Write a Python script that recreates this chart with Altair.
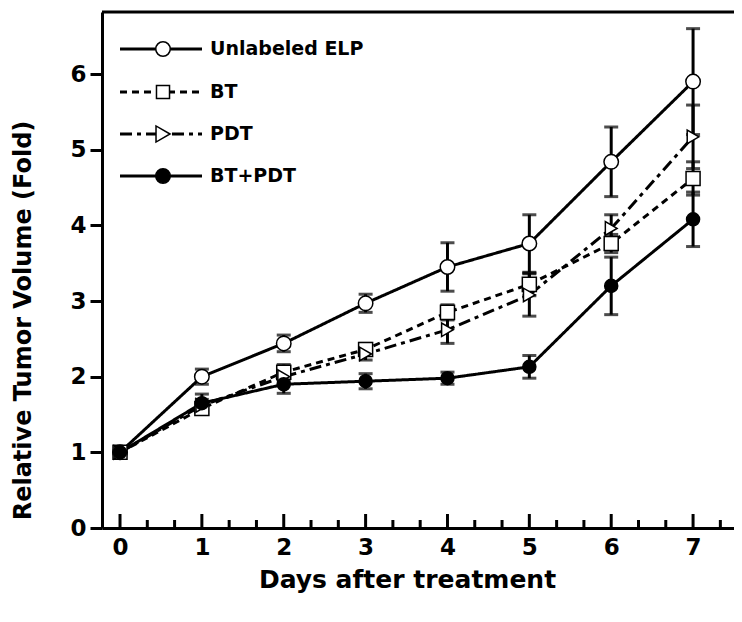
import altair as alt
import pandas as pd

# ---- data ----
days = [0, 1, 2, 3, 4, 5, 6, 7]
series_names = ["Unlabeled ELP", "BT", "PDT", "BT+PDT"]

elp = [1.0, 2.0, 2.44, 2.97, 3.45, 3.76, 4.84, 5.90]
elp_err = [0.06, 0.10, 0.11, 0.12, 0.32, 0.38, 0.46, 0.70]

bt = [1.0, 1.58, 2.06, 2.36, 2.85, 3.22, 3.76, 4.62]
bt_err = [0.05, 0.08, 0.10, 0.08, 0.10, 0.15, 0.12, 0.22]

pdt = [1.0, 1.62, 2.00, 2.30, 2.62, 3.08, 3.96, 5.17]
pdt_err = [0.05, 0.08, 0.08, 0.08, 0.18, 0.28, 0.18, 0.42]

combo = [1.0, 1.65, 1.90, 1.94, 1.98, 2.13, 3.20, 4.08]
combo_err = [0.06, 0.12, 0.12, 0.10, 0.08, 0.15, 0.38, 0.36]

y_ticks = [0, 1, 2, 3, 4, 5, 6]
x_major = [0, 1, 2, 3, 4, 5, 6, 7]
x_minor = [k / 3 for k in range(1, 23) if k % 3]

rows = []
for name, vals, errs in zip(series_names, [elp, bt, pdt, combo],
                            [elp_err, bt_err, pdt_err, combo_err]):
    for d, v, e in zip(days, vals, errs):
        rows.append({"series": name, "day": d, "value": v,
                     "lo": v - e, "hi": v + e})
df = pd.DataFrame(rows)

FONT = "DejaVu Sans"
W, H = 632, 516

xs = alt.Scale(domain=[-0.22, 7.5], nice=False, zero=False)
ys = alt.Scale(domain=[0, 6.82], nice=False, zero=False)

x_axis = alt.Axis(values=x_major, ticks=False, grid=False, domainWidth=3,
                  domainColor="black", labelFont=FONT, labelFontSize=23,
                  labelFontWeight="bold", labelColor="black", labelPadding=8,
                  title="Days after treatment", titleFont=FONT,
                  titleFontSize=25, titleFontWeight="bold", titleColor="black",
                  titlePadding=8, titleX=W / 2 - 11, format="d")
y_axis = alt.Axis(values=y_ticks, grid=False, domainWidth=3, domainColor="black",
                  tickSize=12, tickWidth=3, tickColor="black",
                  labelFont=FONT, labelFontSize=23, labelFontWeight="bold",
                  labelColor="black", labelPadding=4, format="d",
                  title="Relative Tumor Volume (Fold)", titleFont=FONT,
                  titleFontSize=24, titleFontWeight="bold", titleColor="black",
                  titlePadding=34, titleY=H / 2 + 50)

X = alt.X("day:Q", scale=xs, axis=x_axis)

dash_range = [[1, 0], [7, 5], [12, 5, 4, 5], [1, 0]]
shape_range = ["circle", "square", "triangle-right", "circle"]
fill_range = ["white", "white", "white", "black"]
size_range = [210, 170, 260, 210]

dash_enc = alt.StrokeDash("series:N", scale=alt.Scale(domain=series_names, range=dash_range), legend=None)

lines = alt.Chart(df).mark_line(color="black", strokeWidth=3).encode(
    x=X, y=alt.Y("value:Q", scale=ys, axis=y_axis),
    strokeDash=dash_enc, detail="series:N")

err_rule = alt.Chart(df).mark_rule(color="black", strokeWidth=3).encode(
    x=X, y=alt.Y("lo:Q", scale=ys, axis=y_axis), y2="hi:Q")
cap_lo = alt.Chart(df).mark_tick(color="black", thickness=3, size=14, orient="horizontal").encode(
    x=X, y=alt.Y("lo:Q", scale=ys, axis=y_axis))
cap_hi = alt.Chart(df).mark_tick(color="black", thickness=3, size=14, orient="horizontal").encode(
    x=X, y=alt.Y("hi:Q", scale=ys, axis=y_axis))

points = alt.Chart(df).mark_point(stroke="black", strokeWidth=1.5, opacity=1, filled=False).encode(
    x=X, y=alt.Y("value:Q", scale=ys, axis=y_axis),
    shape=alt.Shape("series:N", scale=alt.Scale(domain=series_names, range=shape_range), legend=None),
    fill=alt.Fill("series:N", scale=alt.Scale(domain=series_names, range=fill_range), legend=None),
    size=alt.Size("series:N", scale=alt.Scale(domain=series_names, range=size_range), legend=None),
)

# inward x-axis ticks
maj = alt.Chart(pd.DataFrame({"day": x_major})).mark_rule(color="black", strokeWidth=3).encode(
    x=X, y=alt.value(H), y2=alt.value(H - 14))
mnr = alt.Chart(pd.DataFrame({"day": x_minor})).mark_rule(color="black", strokeWidth=3).encode(
    x=X, y=alt.value(H), y2=alt.value(H - 8))

one = pd.DataFrame({"a": [0]})
top_border = alt.Chart(one).mark_rule(color="black", strokeWidth=3).encode(
    x=alt.value(0), x2=alt.value(W), y=alt.value(0))

# manual legend
leg_y = [37, 80, 122, 164]
legend_layers = []
for i, name in enumerate(series_names):
    ld = pd.DataFrame({"series": [name]})
    legend_layers.append(
        alt.Chart(ld).mark_rule(color="black", strokeWidth=3, strokeDash=dash_range[i]).encode(
            x=alt.value(18), x2=alt.value(100), y=alt.value(leg_y[i])))
    legend_layers.append(
        alt.Chart(ld).mark_point(shape=shape_range[i], fill=fill_range[i], stroke="black",
                                 strokeWidth=1.5, size=size_range[i], opacity=1).encode(
            x=alt.value(61), y=alt.value(leg_y[i])))
    legend_layers.append(
        alt.Chart(ld).mark_text(align="left", baseline="middle", font=FONT, fontSize=19,
                                fontWeight="bold", color="black").encode(
            x=alt.value(108), y=alt.value(leg_y[i]), text="series:N"))

chart = alt.layer(lines, err_rule, cap_lo, cap_hi, points, maj, mnr, top_border,
                  *legend_layers).properties(
    width=W, height=H,
    padding={"left": 94, "top": 4, "right": 0, "bottom": 80},
    autosize=alt.AutoSizeParams(type="none"),
).configure_view(stroke=None).configure(background="white")

chart.save("out.html", embed_options={"renderer": "svg", "actions": False})
